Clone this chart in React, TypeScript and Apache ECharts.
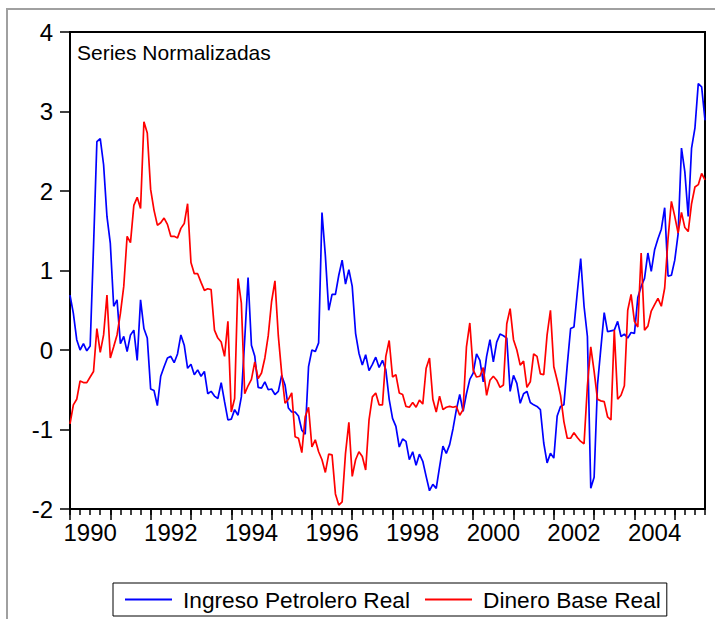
import React, { useEffect, useRef } from "react";
import * as echarts from "echarts";

const START_YEAR = 1990;
const TITLE = "Series Normalizadas";
const SERIES_NAMES = ["Ingreso Petrolero Real", "Dinero Base Real"];

const ingresoPetrolero = [
  0.69, 0.46, 0.13, 0.0, 0.08, -0.01, 0.05, 1.3, 2.62, 2.66, 2.33, 1.68,
  1.34, 0.55, 0.63, 0.08, 0.17, -0.02, 0.19, 0.25, -0.13, 0.63, 0.27, 0.15,
  -0.49, -0.51, -0.7, -0.33, -0.21, -0.1, -0.08, -0.16, -0.05, 0.19, 0.06, -0.23,
  -0.18, -0.31, -0.25, -0.33, -0.27, -0.55, -0.52, -0.58, -0.61, -0.41, -0.65, -0.88,
  -0.87, -0.75, -0.82, -0.59, 0.13, 0.91, 0.06, -0.08, -0.47, -0.48, -0.4, -0.5,
  -0.49, -0.56, -0.52, -0.32, -0.44, -0.73, -0.78, -0.78, -0.83, -1.01, -1.06, -0.21,
  0.0, -0.02, 0.09, 1.73, 1.19, 0.5, 0.7, 0.7, 0.94, 1.13, 0.83, 1.01,
  0.8, 0.21, -0.04, -0.19, -0.06, -0.26, -0.18, -0.09, -0.22, -0.13, -0.25, -0.62,
  -0.86, -0.96, -1.22, -1.12, -1.15, -1.38, -1.28, -1.45, -1.31, -1.4, -1.59, -1.77,
  -1.69, -1.74, -1.47, -1.21, -1.3, -1.19, -0.99, -0.75, -0.56, -0.77, -0.55, -0.37,
  -0.29, -0.05, -0.13, -0.4, -0.08, 0.13, -0.15, 0.1, 0.2, 0.18, 0.15, -0.52,
  -0.32, -0.42, -0.67, -0.55, -0.52, -0.66, -0.69, -0.71, -0.75, -1.17, -1.42, -1.3,
  -1.36, -0.83, -0.71, -0.69, -0.19, 0.27, 0.29, 0.73, 1.15, 0.55, 0.17, -1.74,
  -1.6, -0.44, 0.02, 0.47, 0.23, 0.24, 0.25, 0.36, 0.17, 0.2, 0.15, 0.22,
  0.21, 0.66, 0.8, 0.9, 1.22, 0.99, 1.26, 1.4, 1.52, 1.79, 0.93, 0.94,
  1.13, 1.46, 2.54, 2.24, 1.68, 2.54, 2.79, 3.35, 3.31, 2.89,
];

const dineroBase = [
  -0.93, -0.69, -0.62, -0.39, -0.41, -0.41, -0.34, -0.27, 0.27, -0.03, 0.19, 0.69,
  -0.1, 0.04, 0.19, 0.46, 0.8, 1.43, 1.35, 1.82, 1.92, 1.78, 2.87, 2.73,
  2.02, 1.76, 1.57, 1.6, 1.66, 1.58, 1.43, 1.43, 1.41, 1.53, 1.59, 1.84,
  1.1, 0.96, 0.96, 0.85, 0.75, 0.77, 0.76, 0.25, 0.15, 0.1, -0.08, 0.36,
  -0.78, -0.61, 0.9, 0.59, -0.55, -0.45, -0.37, -0.15, -0.36, -0.29, -0.1, 0.18,
  0.61, 0.87, 0.18, -0.29, -0.67, -0.62, -0.54, -1.09, -1.11, -1.29, -0.84, -0.72,
  -1.22, -1.13, -1.28, -1.38, -1.54, -1.31, -1.32, -1.81, -1.95, -1.91, -1.3, -0.91,
  -1.59, -1.38, -1.28, -1.34, -1.51, -0.88, -0.59, -0.54, -0.69, -0.69, -0.08, 0.12,
  -0.34, -0.31, -0.54, -0.56, -0.71, -0.72, -0.66, -0.72, -0.63, -0.68, -0.23, -0.1,
  -0.62, -0.78, -0.58, -0.75, -0.72, -0.71, -0.72, -0.71, -0.82, -0.75, 0.04, 0.34,
  -0.25, -0.34, -0.33, -0.22, -0.57, -0.38, -0.33, -0.38, -0.47, -0.44, 0.33, 0.52,
  0.13, 0.0, -0.19, -0.14, -0.47, -0.4, -0.05, -0.08, -0.3, -0.31, 0.19, 0.5,
  -0.21, -0.38, -0.57, -0.9, -1.11, -1.11, -1.04, -1.1, -1.15, -1.18, -0.45, 0.04,
  -0.27, -0.62, -0.64, -0.65, -0.84, -0.88, 0.25, -0.62, -0.57, -0.45, 0.5, 0.7,
  0.36, 0.29, 1.22, 0.25, 0.3, 0.49, 0.57, 0.65, 0.55, 0.78, 1.4, 1.87,
  1.68, 1.47, 1.73, 1.54, 1.49, 1.84, 2.05, 2.08, 2.22, 2.14,
];

const months: string[] = ingresoPetrolero.map(
  (_, i) =>
    `${START_YEAR + Math.floor(i / 12)}M${String((i % 12) + 1).padStart(2, "0")}`
);

const FONT = "'Liberation Sans', Arial, Helvetica, sans-serif";

export default function App() {
  const ref = useRef<HTMLDivElement>(null);

  useEffect(() => {
    if (!ref.current) return;
    const chart = echarts.init(ref.current, undefined, { renderer: "svg" });
    chart.setOption({
      animation: false,
      backgroundColor: "#ffffff",
      textStyle: { fontFamily: FONT },
      grid: {
        left: 70,
        top: 32,
        right: 10,
        bottom: 110,
        show: true,
        borderColor: "#000",
        borderWidth: 2,
        backgroundColor: "transparent",
      },
      legend: {
        data: SERIES_NAMES,
        left: 113,
        top: 583,
        orient: "horizontal",
        icon: "rect",
        itemWidth: 47,
        itemHeight: 2,
        itemGap: 15,
        padding: [5, 6, 5, 12],
        borderColor: "#000",
        borderWidth: 1,
        borderRadius: 0,
        textStyle: {
          fontSize: 22.7,
          color: "#000",
          fontFamily: FONT,
          padding: [0, 0, 0, 6],
        },
      },
      xAxis: [
        {
          type: "category",
          data: months,
          boundaryGap: false,
          axisLine: { show: true, onZero: false, lineStyle: { color: "#000", width: 2 } },
          axisTick: {
            show: true,
            interval: (i: number) => i % 12 === 0,
            length: 11,
            lineStyle: { color: "#000", width: 1.5 },
          },
          axisLabel: {
            interval: (i: number) => i % 24 === 6,
            formatter: (v: string) => v.slice(0, 4),
            fontSize: 24,
            color: "#000",
            margin: 11,
            fontFamily: FONT,
          },
          splitLine: { show: false },
        },
        {
          type: "category",
          data: months,
          boundaryGap: false,
          position: "bottom",
          axisLine: { show: false, onZero: false },
          axisTick: {
            show: true,
            interval: (i: number) => i % 3 === 0,
            length: 6,
            lineStyle: { color: "#000", width: 1.5 },
          },
          axisLabel: { show: false },
          splitLine: { show: false },
        },
      ],
      yAxis: {
        type: "value",
        min: -2,
        max: 4,
        interval: 1,
        axisLine: { show: true, onZero: false, lineStyle: { color: "#000", width: 2 } },
        axisTick: { show: true, length: 10, lineStyle: { color: "#000", width: 1.5 } },
        axisLabel: { fontSize: 24, color: "#000", margin: 17, fontFamily: FONT },
        splitLine: { show: false },
      },
      graphic: [
        {
          type: "rect",
          shape: { x: 7, y: 9, width: 760, height: 700 },
          style: { fill: "none", stroke: "#a0a0a0", lineWidth: 2 },
          silent: true,
          z: -10,
        },
        {
          type: "text",
          left: 77,
          top: 42,
          style: { text: TITLE, fontSize: 21, fill: "#000", fontFamily: FONT },
          silent: true,
        },
      ],
      series: [
        {
          name: SERIES_NAMES[0],
          type: "line",
          data: ingresoPetrolero,
          symbol: "none",
          color: "#0000ff",
          lineStyle: { color: "#0000ff", width: 1.7 },
          xAxisIndex: 0,
        },
        {
          name: SERIES_NAMES[1],
          type: "line",
          data: dineroBase,
          symbol: "none",
          color: "#ff0000",
          lineStyle: { color: "#ff0000", width: 1.7 },
          xAxisIndex: 0,
        },
      ],
    });
    return () => chart.dispose();
  }, []);

  return (
    <div
      ref={ref}
      style={{ position: "absolute", left: 0, top: 0, width: 715, height: 619 }}
    />
  );
}
